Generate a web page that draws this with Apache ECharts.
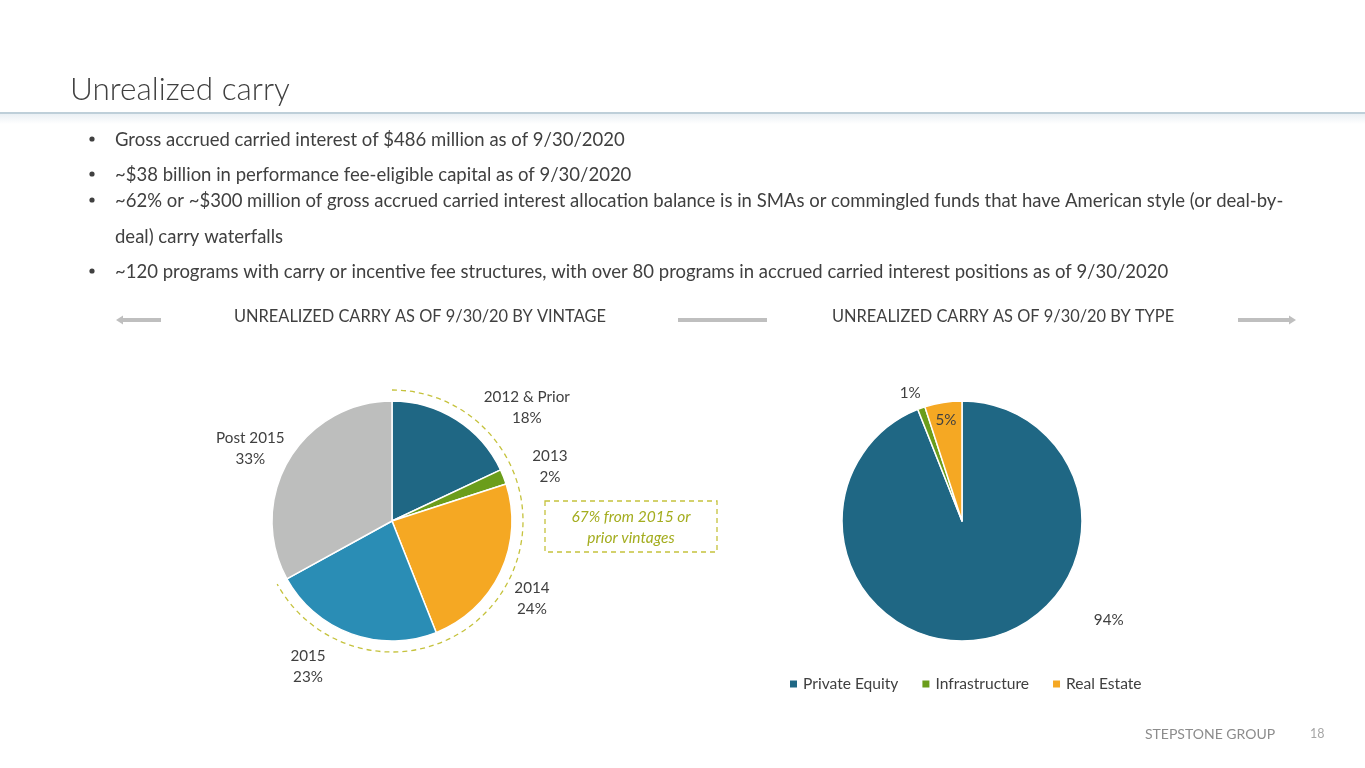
<!DOCTYPE html>
<html>
<head>
<meta charset="utf-8">
<title>Unrealized carry</title>
<script src="https://cdn.jsdelivr.net/npm/echarts@6/dist/echarts.min.js"></script>
<style>
  html, body { margin: 0; padding: 0; background: #fff; }
  #main { width: 1365px; height: 768px; }
</style>
</head>
<body>
<div id="main"></div>
<script>
// data
var vintageNames = ['2012 & Prior', '2013', '2014', '2015', 'Post 2015'];
var vintageValues = [18, 2, 24, 23, 33];
var typeNames = ['Private Equity', 'Infrastructure', 'Real Estate'];
var typeValues = [94, 1, 5];
var bullets = [
    'Gross accrued carried interest of $486 million as of 9/30/2020',
    '~$38 billion in performance fee-eligible capital as of 9/30/2020',
    '~62% or ~$300 million of gross accrued carried interest allocation balance is in SMAs or commingled funds that have American style (or deal-by-\ndeal) carry waterfalls',
    '~120 programs with carry or incentive fee structures, with over 80 programs in accrued carried interest positions as of 9/30/2020'
];

// layout
var FONT = 'Lato, "Open Sans", sans-serif';
var TXT = '#404040';
var leftC = [392, 521], rightC = [962, 521], R = 120;
// label spots as [angle from 12 o'clock, distance from centre]
var vintageLabelPos = [[50, 176], [71, 167], [119, 160], [210, 168], [297, 159]];
var typeLabelPos = [[124, 177], [338, 138], [351, 102]];
// y of the first line of each bullet
var bulletY = [140, 175, 201, 272];

var chart = echarts.init(document.getElementById('main'));

function polarLayout(center, spots) {
    return function (params) {
        var s = spots[params.dataIndex];
        var a = s[0] * Math.PI / 180;
        return {
            x: center[0] + s[1] * Math.sin(a),
            y: center[1] - s[1] * Math.cos(a),
            align: 'center',
            verticalAlign: 'middle'
        };
    };
}

// bullet text
var graphics = [];
bullets.forEach(function (b, i) {
    graphics.push({
        type: 'circle', shape: { cx: 92, cy: bulletY[i] - 1, r: 2.6 }, style: { fill: '#404040' }, silent: true
    });
    b.split('\n').forEach(function (line, k) {
        graphics.push({
            type: 'text', x: 115, y: bulletY[i] + k * 36,
            style: { text: line, font: '18.5px ' + FONT, fill: TXT, verticalAlign: 'middle' }
        });
    });
});

// share of 2015 or prior vintages, for the dashed arc
var priorShare = 0;
for (var i = 0; i < 4; i++) priorShare += vintageValues[i];
var totalV = vintageValues.reduce(function (a, b) { return a + b; }, 0);
var arcEnd = -Math.PI / 2 + priorShare / totalV * Math.PI * 2;

graphics = graphics.concat([
    { type: 'text', x: 70, y: 90,
      style: { text: 'Unrealized carry', font: '300 31.5px ' + FONT, fill: '#404040', verticalAlign: 'middle' } },
    { type: 'rect', shape: { x: 0, y: 114, width: 1365, height: 10 },
      style: { fill: new echarts.graphic.LinearGradient(0, 0, 0, 1, [
          { offset: 0, color: '#eaf0f4' }, { offset: 1, color: '#ffffff' }]) }, silent: true },
    { type: 'line', shape: { x1: 0, y1: 113, x2: 1365, y2: 113 },
      style: { stroke: '#a9bfcd', lineWidth: 1.5 }, silent: true },

    // section headers
    { type: 'text', x: 234, y: 317,
      style: { text: 'UNREALIZED CARRY AS OF 9/30/20 BY VINTAGE', font: '16.4px ' + FONT, fill: TXT, verticalAlign: 'middle' } },
    { type: 'text', x: 832, y: 317,
      style: { text: 'UNREALIZED CARRY AS OF 9/30/20 BY TYPE', font: '16.4px ' + FONT, fill: TXT, verticalAlign: 'middle' } },
    { type: 'rect', shape: { x: 122, y: 318, width: 39, height: 4 }, style: { fill: '#bfbfbf' } },
    { type: 'polygon', shape: { points: [[116, 320], [123, 315.5], [123, 324.5]] }, style: { fill: '#bfbfbf' } },
    { type: 'rect', shape: { x: 678, y: 318, width: 89, height: 4 }, style: { fill: '#bfbfbf' } },
    { type: 'rect', shape: { x: 1238, y: 318, width: 51, height: 4 }, style: { fill: '#bfbfbf' } },
    { type: 'polygon', shape: { points: [[1296, 320], [1289, 315.5], [1289, 324.5]] }, style: { fill: '#bfbfbf' } },

    // dashed arc around 2015-or-prior slices
    { type: 'arc', shape: { cx: leftC[0], cy: leftC[1], r: 131, startAngle: -Math.PI / 2, endAngle: arcEnd, clockwise: true },
      style: { stroke: '#c5c23c', lineWidth: 1.3, lineDash: [5, 4], fill: null }, silent: true },

    // callout box
    { type: 'rect', shape: { x: 545, y: 501, width: 172, height: 51 },
      style: { stroke: '#c5c23c', lineWidth: 1.3, lineDash: [5, 4], fill: null } },
    { type: 'text', x: 631, y: 527,
      style: { text: '67% from 2015 or\nprior vintages', font: 'italic 15.5px ' + FONT, fill: '#a4ad1f',
               align: 'center', verticalAlign: 'middle', lineHeight: 21 } },

    // footer
    { type: 'text', x: 1145, y: 734,
      style: { text: 'STEPSTONE GROUP', font: '14px ' + FONT, fill: '#8c8c8c', verticalAlign: 'middle' } },
    { type: 'text', x: 1310, y: 734,
      style: { text: '18', font: '12.5px ' + FONT, fill: '#a6a6a6', verticalAlign: 'middle' } }
]);

var labelStyle = {
    show: true,
    color: TXT,
    fontSize: 15.2,
    fontFamily: FONT,
    lineHeight: 21
};

option = {
    animation: false,
    backgroundColor: '#ffffff',
    legend: {
        data: typeNames,
        left: 783,
        top: 671,
        itemWidth: 9,
        itemHeight: 9,
        itemGap: 22,
        icon: 'rect',
        textStyle: { color: TXT, fontSize: 15.6, fontFamily: FONT }
    },
    graphic: graphics,
    series: [
        {
            name: 'Vintage',
            type: 'pie',
            center: leftC,
            radius: R,
            startAngle: 90,
            clockwise: true,
            color: ['#1f6784', '#6b9d1b', '#f5a823', '#2a8db5', '#bdbebd'],
            itemStyle: { borderColor: '#ffffff', borderWidth: 1.5 },
            label: Object.assign({ formatter: '{b}\n{c}%' }, labelStyle),
            labelLine: { show: false },
            labelLayout: polarLayout(leftC, vintageLabelPos),
            data: vintageNames.map(function (n, i) { return { name: n, value: vintageValues[i] }; })
        },
        {
            name: 'Type',
            type: 'pie',
            center: rightC,
            radius: R,
            startAngle: 90,
            clockwise: true,
            color: ['#1f6784', '#6b9d1b', '#f5a823'],
            itemStyle: { borderColor: '#ffffff', borderWidth: 1.5 },
            label: Object.assign({ formatter: '{c}%' }, labelStyle),
            labelLine: { show: false },
            labelLayout: polarLayout(rightC, typeLabelPos),
            data: typeNames.map(function (n, i) { return { name: n, value: typeValues[i] }; })
        }
    ]
};

chart.setOption(option);
</script>
</body>
</html>
